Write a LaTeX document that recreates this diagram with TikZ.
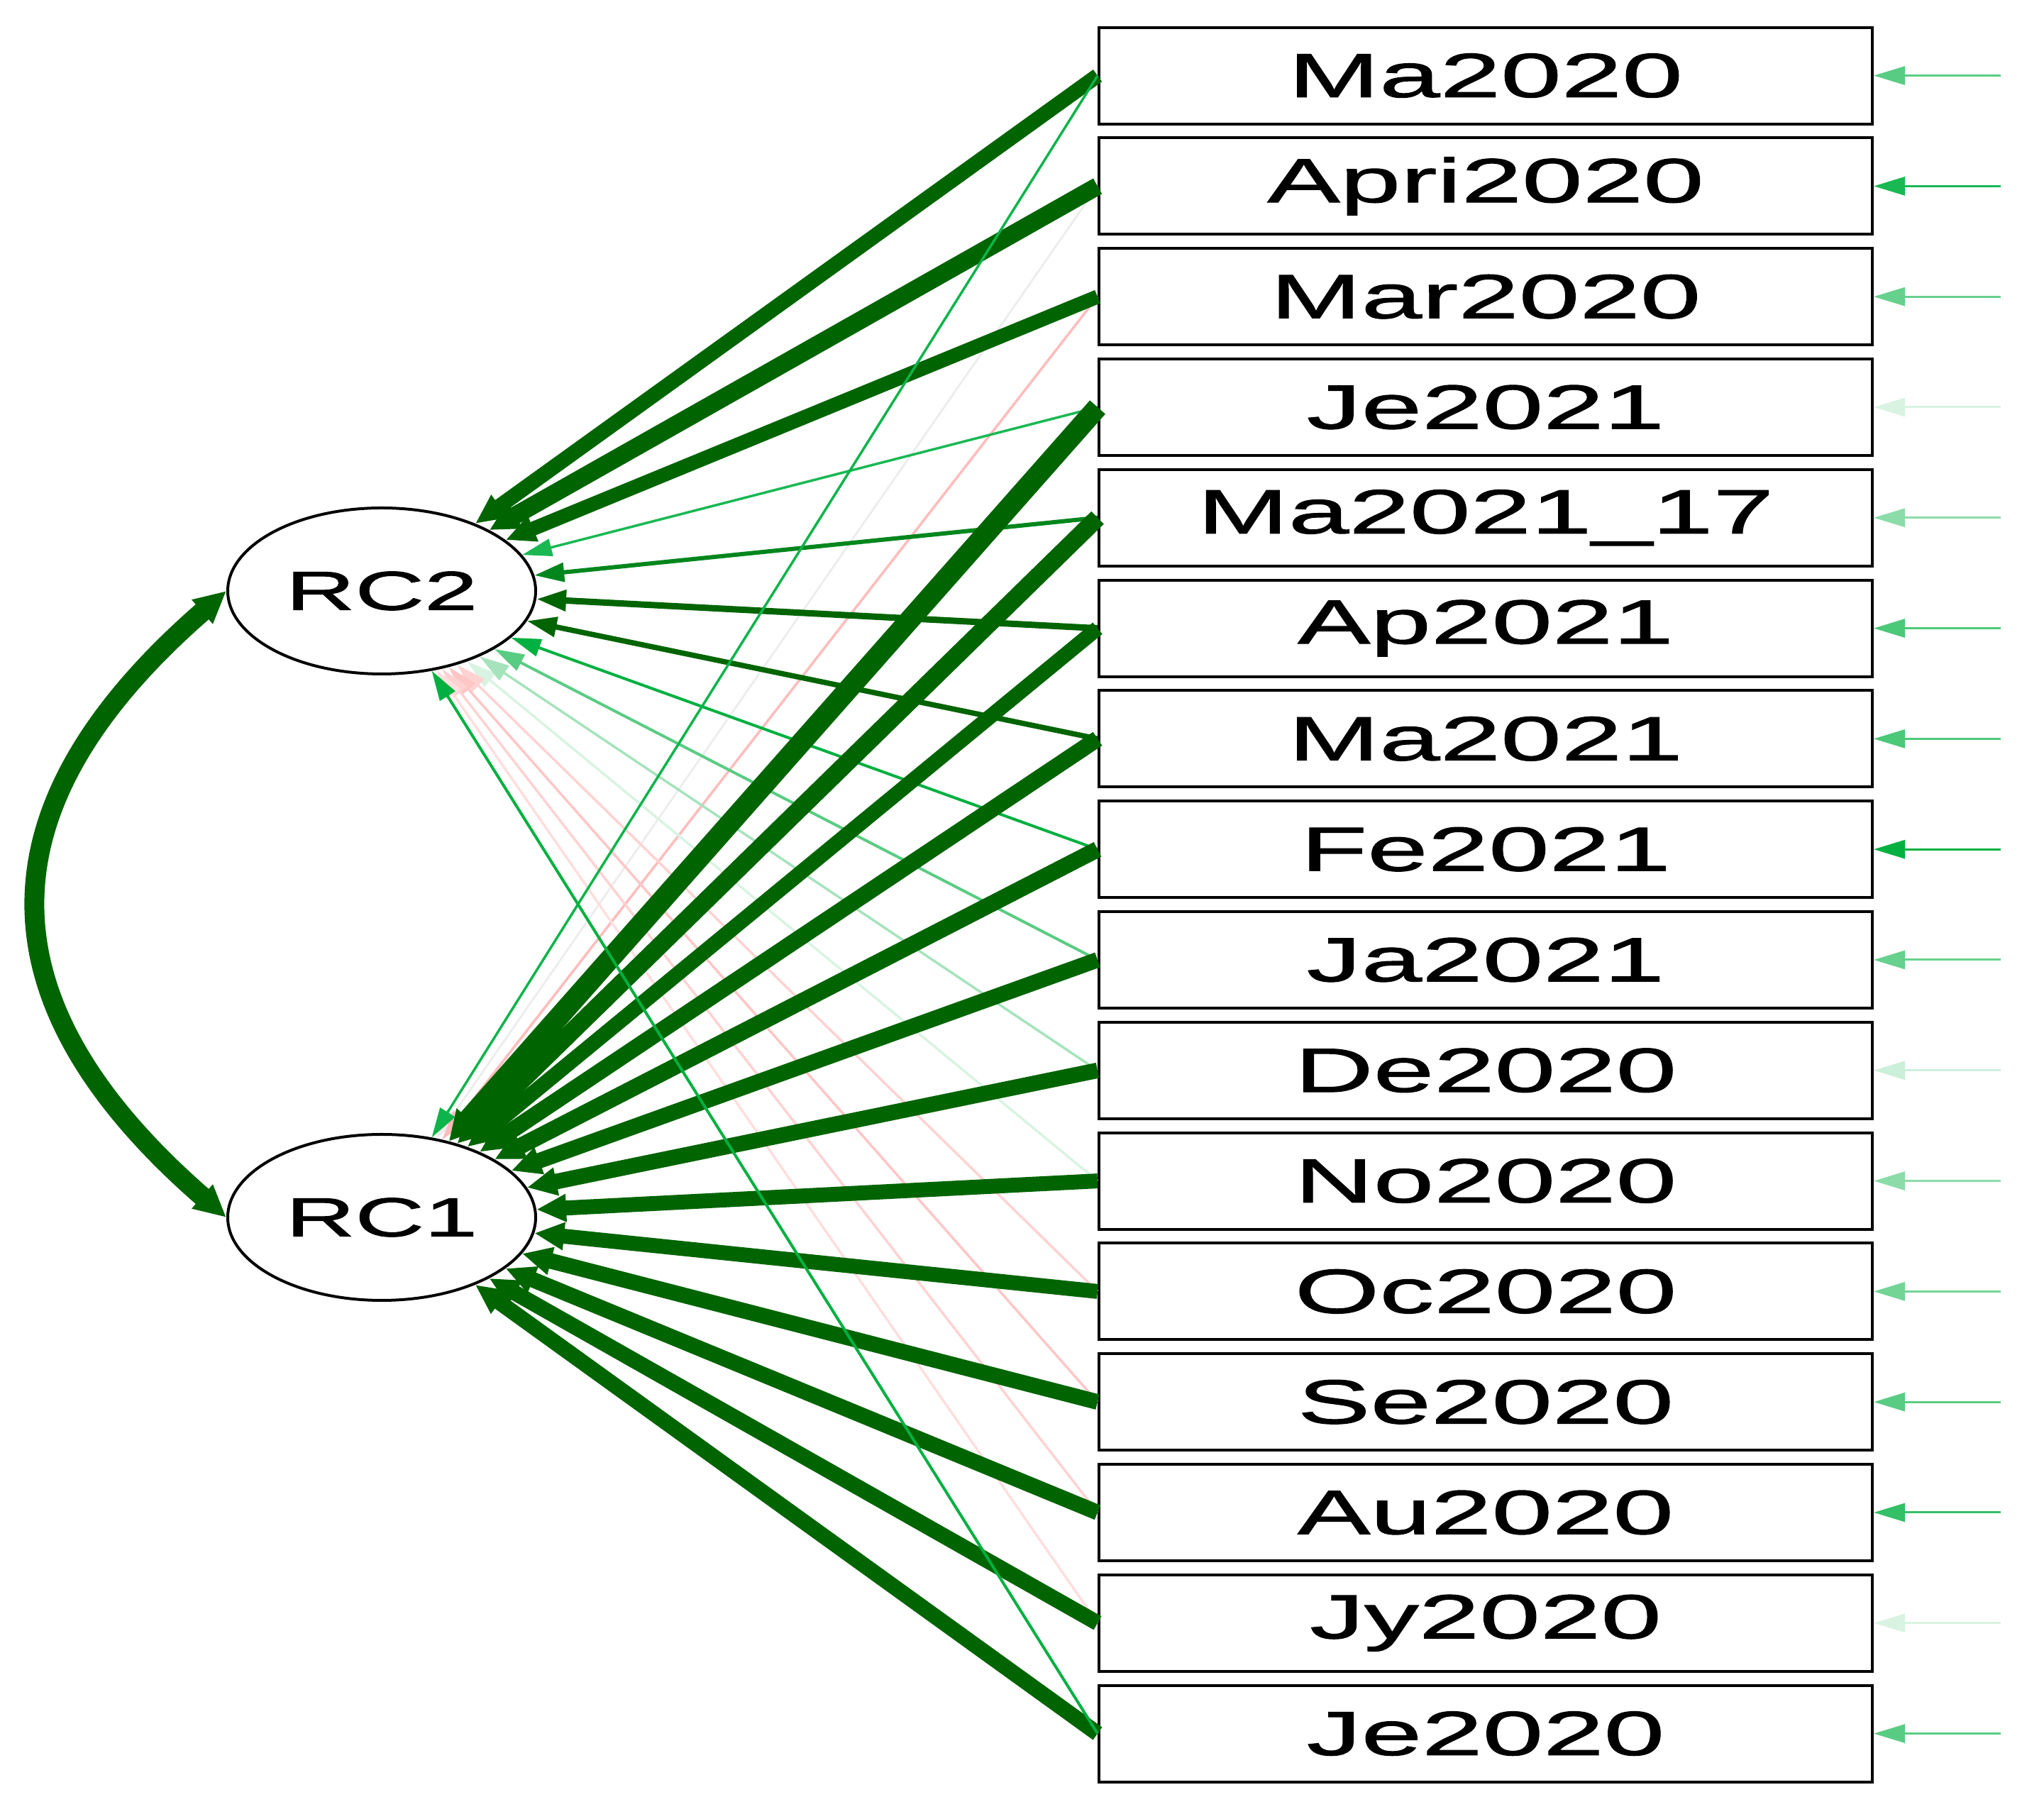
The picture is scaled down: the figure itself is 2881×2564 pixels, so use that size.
\documentclass[tikz,border=0pt]{standalone}
\usepackage{fontspec}
\usetikzlibrary{arrows.meta,shapes.geometric}
\newfontfamily\semfont[FakeStretch=1.75, FakeBold=1.3]{Liberation Sans}
\definecolor{pathgreen}{HTML}{006400}
\definecolor{fadegreen}{HTML}{00B040}
\definecolor{negred}{HTML}{FF6A6A}

\begin{document}
\begin{tikzpicture}[x=0.1mm, y=0.1mm, >={Triangle[length=4.2mm, width=2.2mm 0.7]},
  lat/.style={ellipse, draw, line width=0.4mm, fill=white, minimum width=43.4mm, minimum height=23.4mm, inner sep=0pt, font=\semfont\fontsize{22}{26}\selectfont},
  ind/.style={rectangle, draw, line width=0.4mm, fill=white, minimum width=109mm, minimum height=13.6mm, inner sep=0pt, font=\semfont\fontsize{25}{30}\selectfont},
  res/.style={-{Triangle[length=4.4mm, width=2.6mm]}, line width=0.3mm}]
  \useasboundingbox (0,0) rectangle (2881,2564);

  % factors
  \node[lat] (RC2) at (538,1731) {RC2};
  \node[lat] (RC1) at (538,848) {RC1};

  % indicators
  \foreach \lab [count=\i] in {Ma2020, Apri2020, Mar2020, Je2021, Ma2021\_17, Ap2021, Ma2021, Fe2021,
      Ja2021, De2020, No2020, Oc2020, Se2020, Au2020, Jy2020, Je2020}
    \node[ind] (v\i) at (2094,{2457.4-155.8*(\i-1)}) {\lab};

  % residuals
  \foreach \i/\p in {1/65, 2/90, 3/60, 4/15, 5/45, 6/70, 7/70, 8/100, 9/60, 10/20, 11/45, 12/55, 13/65, 14/80, 15/15, 16/65} {
    \coordinate (e\i) at (2820,{2457.4-155.8*(\i-1)});
    \draw[res, fadegreen!\p] (e\i) -- (v\i.east);
  }

  % loadings, weak ones first
  \foreach \b/\f/\c/\w in {2/RC1/black!7/0.3, 3/RC1/negred!45/0.35, 11/RC2/fadegreen!15/0.35,
      12/RC2/negred!30/0.35, 13/RC2/negred!38/0.35, 14/RC2/negred!30/0.35, 15/RC2/negred!22/0.35,
      10/RC2/fadegreen!35/0.35, 9/RC2/fadegreen!65/0.4, 4/RC2/fadegreen!90/0.35, 8/RC2/fadegreen/0.4,
      5/RC2/pathgreen!55!fadegreen/0.6, 7/RC2/pathgreen/0.75, 6/RC2/pathgreen/0.9,
      1/RC2/pathgreen/2.1, 2/RC2/pathgreen/2.5, 3/RC2/pathgreen/2.0,
      4/RC1/pathgreen/2.9, 5/RC1/pathgreen/2.5, 6/RC1/pathgreen/2.1, 7/RC1/pathgreen/2.3,
      8/RC1/pathgreen/2.3, 9/RC1/pathgreen/2.2, 10/RC1/pathgreen/2.2, 11/RC1/pathgreen/2.1,
      12/RC1/pathgreen/2.1, 13/RC1/pathgreen/2.2, 14/RC1/pathgreen/2.2, 15/RC1/pathgreen/2.2,
      16/RC1/pathgreen/2.2, 1/RC1/fadegreen!95/0.35, 16/RC2/fadegreen/0.4}
    \draw[->, color=\c, line width=\w mm] (v\b.west) -- (\f);

  % factor covariance
  \draw[{Triangle[length=4.5mm, width=4.2mm]}-{Triangle[length=4.5mm, width=4.2mm]}, pathgreen, line width=2.8mm]
    (RC2.west) .. controls +(221:464) and +(139:464) .. (RC1.west);
\end{tikzpicture}
\end{document}
